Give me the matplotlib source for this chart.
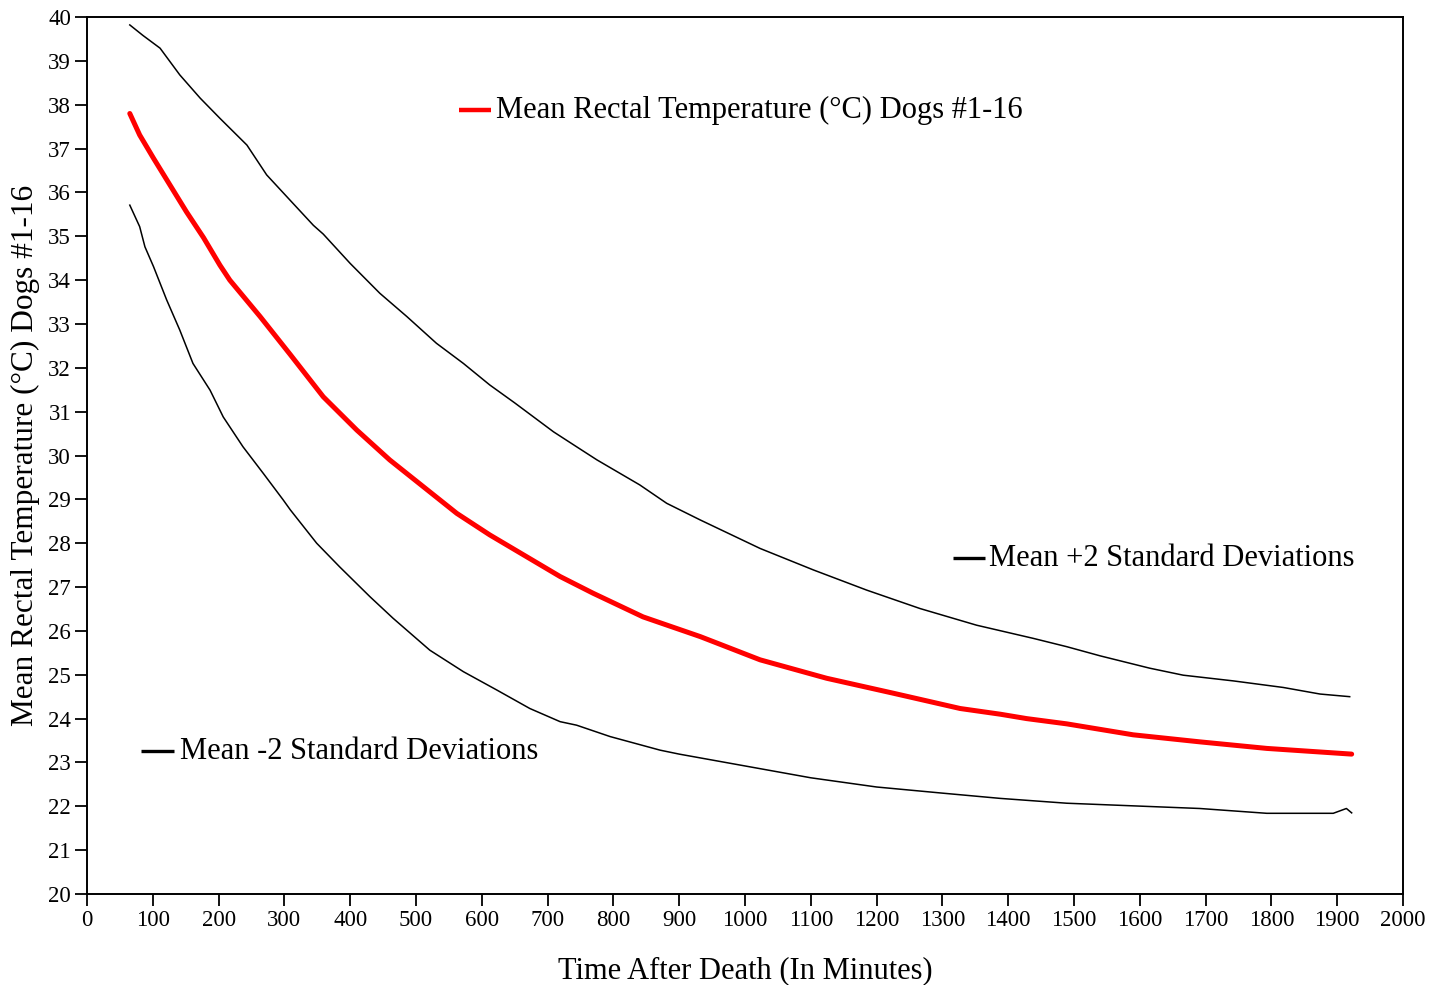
import matplotlib
matplotlib.use("Agg")
import matplotlib.pyplot as plt

plt.rcParams['font.family'] = ['Liberation Serif', 'DejaVu Serif']

# Mean +2 standard deviations: time (min), temperature (°C)
t_upper = [65, 85, 111, 141, 172, 202, 243, 273, 310, 344, 359, 400, 445, 486, 531, 572,
           612, 650, 709, 744, 775, 840, 881, 932, 1023, 1104, 1185, 1266, 1352, 1438,
           1489, 1540, 1615, 1666, 1742, 1818, 1874, 1919]
upper = [39.82, 39.58, 39.29, 38.68, 38.15, 37.69, 37.08, 36.40, 35.80, 35.25, 35.05,
         34.38, 33.70, 33.17, 32.56, 32.10, 31.61, 31.20, 30.54, 30.20, 29.90, 29.33,
         28.91, 28.53, 27.88, 27.39, 26.93, 26.51, 26.13, 25.83, 25.64, 25.43, 25.15,
         24.99, 24.86, 24.71, 24.56, 24.50]

# Mean rectal temperature
t_mean = [65, 80, 101, 126, 151, 177, 202, 217, 263, 309, 359, 410, 460, 511, 562, 612,
          719, 769, 845, 932, 1023, 1124, 1225, 1327, 1388, 1428, 1489, 1590, 1691,
          1793, 1922]
mean = [37.80, 37.31, 36.78, 36.17, 35.56, 34.97, 34.34, 34.00, 33.17, 32.30, 31.34,
        30.58, 29.90, 29.29, 28.68, 28.19, 27.24, 26.86, 26.32, 25.87, 25.34, 24.92,
        24.58, 24.23, 24.10, 24.00, 23.88, 23.63, 23.47, 23.32, 23.19]

# Mean -2 standard deviations
t_lower = [65, 80, 88, 101, 121, 141, 161, 187, 207, 237, 268, 298, 309, 349, 384, 430,
           465, 521, 572, 623, 673, 719, 744, 795, 871, 900, 1000, 1100, 1200, 1300,
           1388, 1489, 1590, 1691, 1793, 1894, 1914, 1922]
lower = [35.71, 35.22, 34.76, 34.31, 33.55, 32.86, 32.10, 31.49, 30.88, 30.20, 29.59,
         28.99, 28.76, 28.00, 27.46, 26.78, 26.29, 25.56, 25.07, 24.65, 24.23, 23.93,
         23.85, 23.59, 23.28, 23.19, 22.92, 22.65, 22.44, 22.30, 22.18, 22.07, 22.01,
         21.95, 21.84, 21.84, 21.95, 21.85]

label_mean = "Mean Rectal Temperature (°C) Dogs #1-16"
label_upper = "Mean +2 Standard Deviations"
label_lower = "Mean -2 Standard Deviations"
xlabel = "Time After Death (In Minutes)"
ylabel = "Mean Rectal Temperature (°C) Dogs #1-16"

fig = plt.figure(figsize=(14.29, 9.85), dpi=100)
ax = fig.add_axes([0.0609, 0.0924, 0.9209, 0.8903])

ax.plot(t_upper, upper, color='black', lw=1.1)
ax.plot(t_lower, lower, color='black', lw=1.1)
ax.plot(t_mean, mean, color='#ff0000', lw=3.6, solid_capstyle='round')

ax.set_xlim(0, 2000)
ax.set_ylim(20, 40)
ax.set_xticks(range(0, 2001, 100))
ax.set_yticks(range(20, 41, 1))
ax.tick_params(direction='out', length=8.5, width=1.3, labelsize=16.5, pad=3)
for s in ax.spines.values():
    s.set_linewidth(1.4)

ax.set_xlabel(xlabel, fontsize=22, labelpad=18)
ax.set_ylabel(ylabel, fontsize=22.5, labelpad=6)

# in-plot labels with short line keys
def keyed_label(x0, x1, xt, y, text, color, lw):
    ax.plot([x0, x1], [y, y], color=color, lw=lw, solid_capstyle='butt')
    ax.text(xt, y, text, fontsize=22, va='center', ha='left')

keyed_label(565, 614, 622, 37.88, label_mean, '#ff0000', 3.2)
keyed_label(1316, 1365, 1371, 27.66, label_upper, 'black', 2.4)
keyed_label(82, 132, 141, 23.26, label_lower, 'black', 2.4)

fig.savefig("out.png", dpi=100)
